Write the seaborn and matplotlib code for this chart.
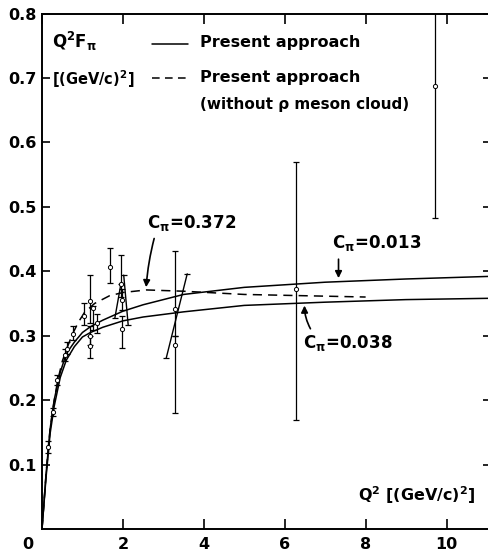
import matplotlib
matplotlib.use("Agg")
import matplotlib.pyplot as plt
import seaborn as sns
import numpy as np

# ---- curves ----
upper_x = [0, 0.1, 0.2, 0.3, 0.45, 0.6, 0.8, 1.0, 1.2, 1.5, 2.0, 2.5, 3.5, 5.0, 7.0, 9.0, 11.05]
upper_y = [0, 0.085, 0.155, 0.2, 0.243, 0.272, 0.29, 0.305, 0.314, 0.324, 0.338, 0.348, 0.364, 0.375, 0.383, 0.388, 0.392]

lower_x = [0, 0.1, 0.2, 0.3, 0.45, 0.6, 0.8, 1.0, 1.2, 1.5, 2.0, 2.5, 3.5, 5.0, 7.0, 9.0, 11.05]
lower_y = [0, 0.08, 0.148, 0.19, 0.235, 0.262, 0.283, 0.298, 0.305, 0.313, 0.323, 0.329, 0.337, 0.347, 0.352, 0.356, 0.358]

dash_x = [0, 0.1, 0.2, 0.28, 0.38, 0.5, 0.6, 0.75, 0.9, 1.05, 1.3, 1.67, 2.0, 2.58, 3.5, 5.0, 6.5, 8.0]
dash_y = [0, 0.085, 0.155, 0.19, 0.228, 0.26, 0.278, 0.302, 0.321, 0.336, 0.35, 0.362, 0.367, 0.371, 0.369, 0.364, 0.362, 0.36]

# ---- data points with error bars ----
pt_x  = [0.15, 0.27, 0.38, 0.57, 0.62, 0.77, 1.03, 1.18, 1.18, 1.18, 1.25, 1.35, 1.69, 1.95, 1.98, 1.98, 3.28, 3.30, 6.27, 9.72]
pt_y  = [0.128, 0.182, 0.231, 0.270, 0.280, 0.303, 0.331, 0.354, 0.299, 0.284, 0.343, 0.320, 0.407, 0.380, 0.356, 0.310, 0.341, 0.285, 0.373, 0.688]
pt_lo = [0.118, 0.176, 0.223, 0.260, 0.272, 0.293, 0.317, 0.320, 0.285, 0.265, 0.309, 0.304, 0.382, 0.360, 0.340, 0.281, 0.300, 0.180, 0.169, 0.483]
pt_hi = [0.137, 0.188, 0.239, 0.280, 0.290, 0.315, 0.351, 0.394, 0.315, 0.300, 0.346, 0.334, 0.436, 0.425, 0.372, 0.330, 0.431, 0.300, 0.570, 0.830]

# ---- slanted bars ----
seg_x0 = [1.80, 2.02, 3.07]
seg_y0 = [0.327, 0.394, 0.265]
seg_x1 = [1.95, 2.13, 3.59]
seg_y1 = [0.380, 0.317, 0.396]

x_ticks = [0, 2, 4, 6, 8, 10]
x_labels = ["", "2", "4", "6", "8", "10"]
y_ticks = [0.1, 0.2, 0.3, 0.4, 0.5, 0.6, 0.7, 0.8]
y_labels = ["0.1", "0.2", "0.3", "0.4", "0.5", "0.6", "0.7", "0.8"]

sns.set_theme(style="white")
plt.rcParams["font.family"] = ["DejaVu Sans"]
plt.rcParams["font.weight"] = "bold"
plt.rcParams["text.color"] = "black"
plt.rcParams["axes.labelcolor"] = "black"
plt.rcParams["xtick.color"] = "black"
plt.rcParams["ytick.color"] = "black"
plt.rcParams["mathtext.fontset"] = "custom"
plt.rcParams["mathtext.rm"] = "DejaVu Sans:bold"
plt.rcParams["mathtext.it"] = "DejaVu Sans:bold"
plt.rcParams["mathtext.bf"] = "DejaVu Sans:bold"

fig = plt.figure(figsize=(4.89, 5.51), dpi=100)
ax = fig.add_axes([42 / 489, 22 / 551, 447 / 489, 515.5 / 551])

sns.lineplot(x=upper_x, y=upper_y, ax=ax, color="black", lw=1.1, estimator=None, sort=False)
sns.lineplot(x=lower_x, y=lower_y, ax=ax, color="black", lw=1.1, estimator=None, sort=False)
sns.lineplot(x=dash_x, y=dash_y, ax=ax, color="black", lw=1.1, estimator=None, sort=False,
             linestyle=(0, (6, 4)))

px = np.array(pt_x); py = np.array(pt_y)
ax.errorbar(px, py, yerr=[py - np.array(pt_lo), np.array(pt_hi) - py], fmt="none",
            ecolor="black", elinewidth=0.9, capsize=2.2, capthick=0.9, zorder=3)
for x0, y0, x1, y1 in zip(seg_x0, seg_y0, seg_x1, seg_y1):
    ax.plot([x0, x1], [y0, y1], color="black", lw=1.0, zorder=3)
    ax.plot([x0, x1], [y0, y1], ls="none", marker="_", ms=4.5, mew=0.9, color="black", zorder=3)
sns.scatterplot(x=pt_x, y=pt_y, ax=ax, marker="o", s=9, facecolor="white",
                edgecolor="black", linewidth=0.7, zorder=4)

ax.set_xlim(0, 11.05)
ax.set_ylim(0, 0.8)
ax.set_xticks(x_ticks)
ax.set_xticklabels(x_labels, fontsize=11.5, fontweight="bold", color="black")
ax.set_yticks(y_ticks)
ax.set_yticklabels(y_labels, fontsize=11.5, fontweight="bold", color="black")
ax.tick_params(axis="x", direction="in", length=7, width=1.2, top=True, bottom=True,
               labeltop=False, pad=6, colors="black")
ax.tick_params(axis="y", direction="in", length=6, width=1.2, left=True, right=True,
               labelright=False, pad=4, colors="black")
ax.tick_params(axis="y", which="major", right=True)
for t in ax.yaxis.get_major_ticks():
    t.tick2line.set_markersize(4)
for s in ["left", "bottom", "top"]:
    ax.spines[s].set_linewidth(1.4)
    ax.spines[s].set_color("black")
ax.spines["right"].set_visible(False)
ax.set_xlabel(""); ax.set_ylabel("")

ax.annotate("0", xy=(0, 0), xycoords=("data", "axes fraction"), xytext=(-10.5, -6),
            textcoords="offset points", ha="center", va="top", fontsize=11.5,
            fontweight="bold", annotation_clip=False, color="black")

# header / legend texts
ax.text(0.022, 0.945, r"Q$^2$F$_\pi$", transform=ax.transAxes, fontsize=12,
        ha="left", va="center", color="black")
ax.text(0.022, 0.873, r"[(GeV/c)$^2$]", transform=ax.transAxes, fontsize=10.5,
        ha="left", va="center", color="black")
ax.plot([0.246, 0.327], [0.941, 0.941], transform=ax.transAxes, color="black", lw=1.1)
ax.plot([0.246, 0.327], [0.875, 0.875], transform=ax.transAxes, color="black", lw=1.1,
        linestyle=(0, (5, 3.5)))
ax.text(0.353, 0.943, "Present approach", transform=ax.transAxes, fontsize=11.5,
        ha="left", va="center", color="black")
ax.text(0.353, 0.876, "Present approach", transform=ax.transAxes, fontsize=11.5,
        ha="left", va="center", color="black")
ax.text(0.353, 0.823, "(without \u03c1 meson cloud)", transform=ax.transAxes, fontsize=11,
        ha="left", va="center", color="black")

ax.text(0.706, 0.066, r"Q$^2$ [(GeV/c)$^2$]", transform=ax.transAxes, fontsize=11.5,
        ha="left", va="center", color="black")

# annotations
ax.text(2.59, 0.475, r"C$_\pi$=0.372", fontsize=12, ha="left", va="center", color="black")
ax.text(7.16, 0.444, r"C$_\pi$=0.013", fontsize=12, ha="left", va="center", color="black")
ax.text(6.44, 0.289, r"C$_\pi$=0.038", fontsize=12, ha="left", va="center", color="black")

arrow = dict(arrowstyle="-|>", color="black", lw=1.2, mutation_scale=10)
ax.annotate("", xy=(2.57, 0.371), xytext=(2.79, 0.455),
            arrowprops=dict(arrow, connectionstyle="arc3,rad=0.05"))
ax.annotate("", xy=(7.33, 0.385), xytext=(7.33, 0.423),
            arrowprops=dict(arrow))
ax.annotate("", xy=(6.49, 0.351), xytext=(6.67, 0.307),
            arrowprops=dict(arrow, connectionstyle="arc3,rad=-0.15"))

fig.savefig("out.png", dpi=100)
